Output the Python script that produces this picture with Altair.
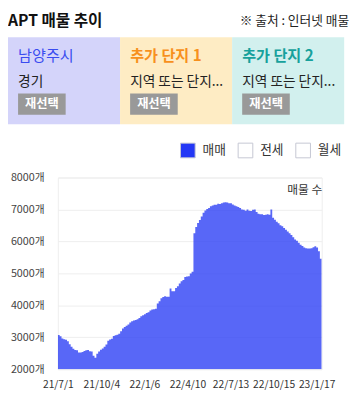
import altair as alt
import pandas as pd

FONT = "Noto Sans CJK KR"

# ---- data ----
chart_title = "APT 매물 추이"
source_note = "※ 출처 : 인터넷 매물"
panels = ["남양주시", "추가 단지 1", "추가 단지 2"]
subtitles = ["경기", "지역 또는 단지...", "지역 또는 단지..."]
button_label = "재선택"
series_names = ["매매", "전세", "월세"]
y_axis_title = "매물 수"
y_ticks = [2000, 3000, 4000, 5000, 6000, 7000, 8000]
x_tick_dates = ["2021-07-01", "2021-10-04", "2022-01-06", "2022-04-10",
                "2022-07-13", "2022-10-15", "2023-01-17"]
start_date = "2021-07-01"
end_date = "2023-01-28"
step = "4D"

# listing counts (매매), one value every 4 days from 2021-07-01
values = [3070, 3030, 2960, 2940, 2920, 2870, 2780, 2700, 2640, 2600,
          2590, 2520, 2520, 2540, 2570, 2590, 2600, 2560, 2550, 2420,
          2360, 2480, 2550, 2610, 2650, 2700, 2770, 2890, 2930, 2950,
          3040, 3060, 3080, 3110, 3190, 3270, 3320, 3360, 3400, 3460,
          3500, 3520, 3540, 3560, 3600, 3660, 3690, 3720, 3760, 3780,
          3840, 3870, 3880, 3890, 4060, 4130, 4220, 4260, 4280, 4270,
          4270, 4530, 4440, 4440, 4540, 4600, 4680, 4750, 4790, 4890,
          4900, 4910, 5000, 5050, 6260, 6450, 6580, 6670, 6780, 6900,
          6970, 7020, 7050, 7100, 7130, 7150, 7150, 7180, 7170, 7200,
          7220, 7230, 7220, 7200, 7200, 7160, 7130, 7100, 7080, 7050,
          7000, 6990, 6960, 7000, 6960, 6950, 6990, 7000, 6920, 6870,
          6850, 6850, 6830, 6840, 6850, 6840, 7000, 6740, 6680, 6620,
          6570, 6510, 6480, 6420, 6370, 6310, 6260, 6200, 6130, 6060,
          6020, 5960, 5900, 5860, 5810, 5790, 5780, 5780, 5790, 5820,
          5850, 5810, 5690, 5460]

# ---- tables ----
dates = pd.date_range(start_date, periods=len(values) + 1, freq=step)
df = pd.DataFrame({
    "date": dates.strftime("%Y-%m-%dT%H:%M:%S"),
    "value": values + [values[-1]],   # closing point for the step area
    "series": series_names[0],
})

panel_df = pd.DataFrame({
    "panel": panels,
    "sub": subtitles,
    "btn": button_label,
    "i": list(range(len(panels))),
    "i2": list(range(1, len(panels) + 1)),
})
title_df = pd.DataFrame({"t": [chart_title], "i": [0]})
source_df = pd.DataFrame({"t": [source_note], "i": [len(panels)]})


def dt(s):
    y, m, d = (int(p) for p in s.split("-"))
    return alt.DateTime(year=y, month=m, date=d)


W, H = 270, 196
PAD = {"left": 51, "top": 169, "right": 31, "bottom": 26}

# ---- main chart ----
main = alt.Chart(df).mark_area(
    interpolate="step-after", fillOpacity=0.76, clip=True
).encode(
    x=alt.X("date:T",
            scale=alt.Scale(domain=[dt(start_date), dt(end_date)]),
            axis=alt.Axis(values=[dt(s) for s in x_tick_dates],
                          labelExpr="timeFormat(datum.value, '%y/%-m/%-d')",
                          domain=False, ticks=False, tickSize=0, grid=False,
                          labelPadding=11, labelFontSize=10.5, labelColor="#333",
                          labelFont=FONT, labelOverlap=False, labelFlush=False,
                          title=None)),
    y=alt.Y("value:Q",
            scale=alt.Scale(domain=[y_ticks[0], y_ticks[-1]], zero=False, nice=False),
            axis=alt.Axis(values=y_ticks, labelExpr="datum.value + '개'",
                          domain=False, ticks=False, tickSize=0, labelPadding=14,
                          labelFontSize=11, labelColor="#444", labelFont=FONT,
                          gridColor="#eeeeee",
                          title=y_axis_title, titleAngle=0, titleX=W, titleY=12,
                          titleAlign="right", titleBaseline="middle",
                          titleFontSize=12, titleFontWeight="normal",
                          titleColor="#333", titleFont=FONT)),
    y2=alt.datum(y_ticks[0]),
    fill=alt.Fill("series:N",
                  scale=alt.Scale(domain=series_names,
                                  range=["#2337f5", "#ffffff", "#ffffff"]),
                  legend=alt.Legend(orient="none", legendX=125, legendY=-36,
                                    direction="horizontal", title=None,
                                    symbolType="square", symbolSize=225,
                                    symbolStrokeColor="#c5c7d3",
                                    symbolStrokeWidth=1, symbolOpacity=1,
                                    labelFontSize=13, labelColor="#333",
                                    labelFont=FONT, labelOffset=7,
                                    columnPadding=10, padding=0)),
)

# ---- header (panels) ----
hx = alt.Scale(domain=[0, len(panels)], range=[-PAD["left"], 293])
HX = alt.X("i:Q", scale=hx, axis=None)

rects = alt.Chart(panel_df).mark_rect().encode(
    x=HX, x2="i2:Q",
    y=alt.value(-143.7), y2=alt.value(-54.7),
    fill=alt.Fill("panel:N",
                  scale=alt.Scale(domain=panels,
                                  range=["#d4d4fa", "#feecc4", "#d2f0ee"]),
                  legend=None),
)

title_color = alt.Color("panel:N",
                        scale=alt.Scale(domain=panels,
                                        range=["#3a4cf0", "#f7901d", "#17a19c"]),
                        legend=None)

t_first = alt.Chart(panel_df).transform_filter("datum.i == 0").mark_text(
    align="left", baseline="middle", dx=10.3, font=FONT, fontSize=15.5
).encode(x=HX, y=alt.value(-124.5), text="panel:N", color=title_color)

t_rest = alt.Chart(panel_df).transform_filter("datum.i > 0").mark_text(
    align="left", baseline="middle", dx=10.3, font=FONT, fontSize=15.5,
    fontWeight="bold"
).encode(x=HX, y=alt.value(-124.5), text="panel:N", color=title_color)

subs = alt.Chart(panel_df).mark_text(
    align="left", baseline="middle", dx=10.3, font=FONT, fontSize=14,
    color="#222"
).encode(x=HX, y=alt.value(-98), text="sub:N")

btn = alt.Chart(panel_df).mark_rect(
    xOffset=10.3, x2Offset=59, color="#999999"
).encode(x=HX, x2="i:Q", y=alt.value(-86), y2=alt.value(-64.3))

btn_text = alt.Chart(panel_df).mark_text(
    align="center", baseline="middle", dx=34.7, font=FONT, fontSize=12.5,
    fontWeight="bold", color="#ffffff"
).encode(x=HX, y=alt.value(-75), text="btn:N")

title_text = alt.Chart(title_df).mark_text(
    align="left", baseline="middle", font=FONT, fontSize=16,
    fontWeight="bold", color="#111"
).encode(x=HX, y=alt.value(-160), text="t:N")

source_text = alt.Chart(source_df).mark_text(
    align="right", baseline="middle", dx=5, font=FONT, fontSize=13,
    color="#222"
).encode(x=HX, y=alt.value(-160), text="t:N")

chart = alt.layer(
    main, rects, t_first, t_rest, subs, btn, btn_text, title_text, source_text
).resolve_scale(
    x="independent", fill="independent", color="independent"
).properties(
    width=W, height=H, padding=PAD,
    autosize=alt.AutoSizeParams(type="none"),
).configure_view(stroke="#eeeeee")

chart.save("out.html", embed_options={"renderer": "svg", "actions": False})
